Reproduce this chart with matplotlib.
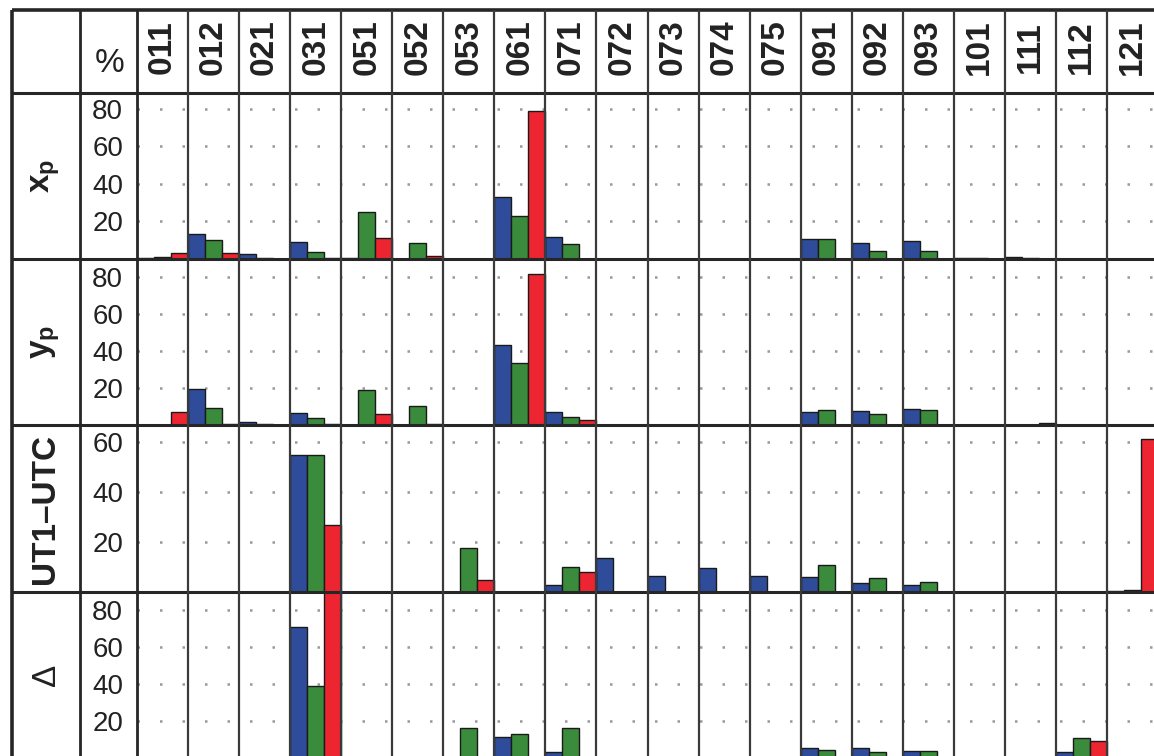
import matplotlib
matplotlib.use("Agg")
import matplotlib.pyplot as plt
import numpy as np

plt.rcParams["font.family"] = ["Liberation Sans", "DejaVu Sans"]
plt.rcParams["mathtext.fontset"] = "custom"
plt.rcParams["mathtext.bf"] = "Liberation Sans:bold"
plt.rcParams["mathtext.rm"] = "Liberation Sans"

categories = ["011", "012", "021", "031", "051", "052", "053", "061", "071", "072",
              "073", "074", "075", "091", "092", "093", "101", "111", "112", "121"]

xp_blue = [0.3, 13.5, 2.5, 9, 0.3, 0, 0, 33, 11.5, 0, 0, 0, 0, 10.5, 8.5, 9.5, 0.5, 0.8, 0, 0]
xp_green = [1, 10, 0.5, 3.5, 25, 8.5, 0, 23, 8, 0, 0, 0, 0, 10.5, 4.5, 4.5, 0.5, 0.5, 0, 0]
xp_red = [3, 3, 0, 0.5, 11, 1.5, 0, 79, 0, 0, 0, 0, 0, 0, 0, 0, 0, 0, 0, 0]

yp_blue = [0, 19.5, 1.5, 6.5, 0, 0, 0, 43, 7, 0, 0, 0, 0, 7, 7.5, 8.5, 0, 0, 0, 0]
yp_green = [0, 9, 0.5, 4, 19, 10, 0, 33.5, 4.5, 0, 0, 0, 0, 8, 6, 8, 0, 0, 0, 0]
yp_red = [7, 0.5, 0, 0.5, 6, 0.5, 0, 81.5, 2.5, 0, 0, 0, 0, 0, 0, 0, 0, 1, 0, 0]

ut_blue = [0, 0, 0, 55, 0, 0, 0, 0, 3, 13.5, 6.5, 9.5, 6.5, 6, 3.5, 3, 0, 0, 0, 0.5]
ut_green = [0, 0, 0, 55, 0, 0, 17.5, 0, 10, 0, 0, 0, 0, 11, 5.5, 4, 0, 0, 0, 0.8]
ut_red = [0, 0, 0, 27, 0, 0, 5, 0, 8, 0, 0, 0, 0, 0, 0, 0, 0, 0, 0, 61.5]

delta_blue = [0, 0, 0, 71, 0, 0, 0, 11.5, 3, 0, 0, 0, 0, 5.5, 5.5, 4, 0, 0, 3, 0]
delta_green = [0, 0, 0, 39, 0, 0, 16.5, 13, 16.5, 0, 0, 0, 0, 4.5, 3.5, 4, 0, 0, 10.7, 0]
delta_red = [0, 0, 0, 96, 0, 0, 0.5, 0, 0, 0, 0, 0, 0, 0, 0, 0, 0, 0, 9, 0]

row_labels = [r"$\mathbf{x}_{\mathbf{p}}$", r"$\mathbf{y}_{\mathbf{p}}$", "UT1\u2013UTC", "\u0394"]
row_series = [(xp_blue, xp_green, xp_red), (yp_blue, yp_green, yp_red),
              (ut_blue, ut_green, ut_red), (delta_blue, delta_green, delta_red)]
row_ticks = [[20, 40, 60, 80], [20, 40, 60, 80], [20, 40, 60], [20, 40, 60, 80]]
row_ymax = [88.5, 89.5, 67, 90]

colors = ["#2f4c9b", "#3a8b3c", "#ec2530"]

W, H = 1154, 756
fig = plt.figure(figsize=(W / 100, H / 100), dpi=100)
fig.patch.set_facecolor("white")

col_w = 51.05
x0 = 137
x1 = x0 + len(categories) * col_w
row_edges = [93, 259, 425, 592, 758]


def px_axes(left, top, right, bottom):
    return fig.add_axes([left / W, 1 - bottom / H, (right - left) / W, (bottom - top) / H])


x = np.arange(len(categories)) + 0.5
for r, series in enumerate(row_series):
    ax = px_axes(x0, row_edges[r], x1, row_edges[r + 1])
    ax.set_facecolor("none")
    ax.set_xlim(0, len(categories))
    ax.set_ylim(0, row_ymax[r])
    for s in ax.spines.values():
        s.set_visible(False)
    ax.set_xticks([])
    ax.set_yticks(row_ticks[r])
    ax.tick_params(axis="y", length=0, pad=10, labelsize=20, labelcolor="#222222")
    ax.yaxis.grid(True, color="#999999", linestyle=(0, (1, 8)), linewidth=1.8)
    ax.set_axisbelow(True)
    for k, vals in enumerate(series):
        vals = np.array(vals, dtype=float)
        m = vals > 0
        ax.bar(x[m] + (k - 1) / 3, vals[m], width=1 / 3, color=colors[k],
               edgecolor="#1a1a1a", linewidth=1.0, zorder=3)

# table frame
fa = fig.add_axes([0, 0, 1, 1], zorder=10)
fa.set_facecolor("none")
fa.set_xlim(0, W)
fa.set_ylim(H, 0)
fa.axis("off")

line_c = "#262626"
fa.hlines(10, 12, W + 10, color=line_c, linewidth=2.6)
fa.hlines(row_edges, 12, W + 10, color=line_c, linewidth=2.2)
fa.vlines(12, 10, H + 10, color=line_c, linewidth=2.6)
fa.vlines([80, x0], 10, H + 10, color=line_c, linewidth=2.0)
fa.vlines([x0 + k * col_w for k in range(1, len(categories) + 1)], 10, H + 10,
          color="#3a3a3a", linewidth=1.6)

fa.text(124, 72, "%", ha="right", va="baseline", fontsize=24, color="#222222")
for i, c in enumerate(categories):
    fa.text(x0 + (i + 0.5) * col_w, 47, c, rotation=90, ha="center", va="center",
            fontsize=24, fontweight="bold", color="#222222")

for r, lab in enumerate(row_labels):
    yc = (row_edges[r] + row_edges[r + 1]) / 2
    weight = "normal" if lab == "\u0394" else "bold"
    fa.text(46, yc, lab, rotation=90, ha="center", va="center", fontsize=24,
            fontweight=weight, color="#222222")

fig.savefig("out.png", dpi=100, facecolor="white")
